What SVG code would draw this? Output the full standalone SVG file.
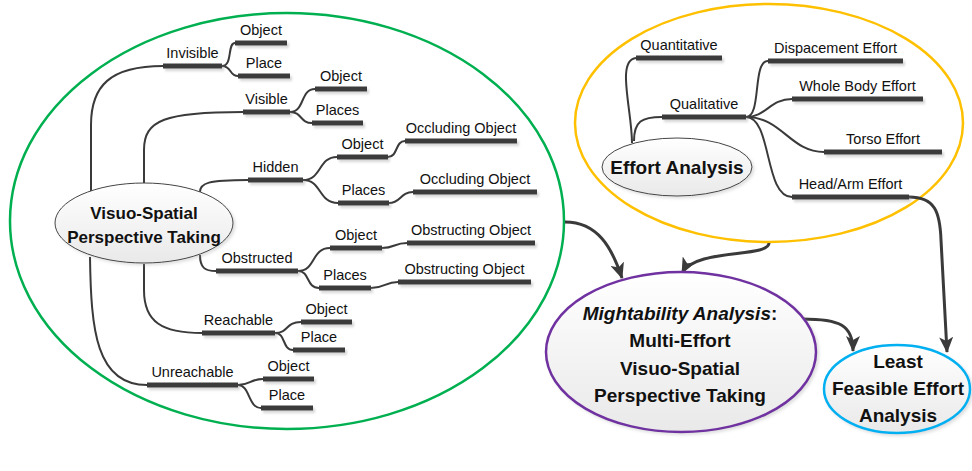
<svg xmlns="http://www.w3.org/2000/svg" width="972" height="471" viewBox="0 0 972 471">
<defs>
<style>
.t{font-family:"Liberation Sans",Arial,sans-serif;font-size:14.5px;fill:#111;text-anchor:middle}
.b{font-family:"Liberation Sans",Arial,sans-serif;font-weight:bold;fill:#111;text-anchor:middle}
.bar{stroke:#3a3a3a;stroke-width:5;fill:none}
.c{stroke:#3a3a3a;stroke-width:2;fill:none}
.a{stroke:#3a3a3a;stroke-width:3;fill:none;marker-end:url(#arr)}
.grp{fill:none;stroke-width:2.5}
</style>
<linearGradient id="g" x1="0" y1="0" x2="0" y2="1">
<stop offset="0" stop-color="#ffffff"/>
<stop offset="1" stop-color="#e9e9e9"/>
</linearGradient>
<filter id="sh" x="-10%" y="-10%" width="130%" height="150%">
<feDropShadow dx="2" dy="2.5" stdDeviation="1" flood-color="#999" flood-opacity="0.4"/>
</filter>
<filter id="esh" x="-10%" y="-10%" width="130%" height="130%">
<feDropShadow dx="2" dy="2" stdDeviation="1.5" flood-color="#999" flood-opacity="0.3"/>
</filter>
<marker id="arr" markerUnits="userSpaceOnUse" markerWidth="16" markerHeight="14" viewBox="0 0 16 14" refX="15" refY="7" orient="auto">
<path d="M0,0 L16,7 L0,14 L4,7 z" fill="#3a3a3a"/>
</marker>
</defs>
<rect width="972" height="471" fill="#fff"/>

<g id="groups">
<ellipse id="green-region" cx="287" cy="221" rx="277" ry="208" class="grp" stroke="#00b050"/>
<ellipse id="yellow-region" cx="769" cy="123" rx="194" ry="119" class="grp" stroke="#ffc000"/>
</g>

<g id="connectors">
<path class="c" d="M91,192 L91,125 C91,86 110,66 163,66"/>
<path class="c" d="M222,66 C233,66 227,43 235,43"/>
<path class="c" d="M222,66 C232,66 229,76 238,76"/>
<path class="c" d="M144,183 L144,150 C144,120 165,112 243,112"/>
<path class="c" d="M290,112 C305,112 300,89 315,89"/>
<path class="c" d="M290,112 C302,112 300,123 312,123"/>
<path class="c" d="M200,192 C200,183 208,180 248,180"/>
<path class="c" d="M303,180 C322,180 318,157 337,157"/>
<path class="c" d="M303,180 C322,180 318,203 338,203"/>
<path class="c" d="M388,157 C398,157 395,141 405,141"/>
<path class="c" d="M389,203 C401,203 400,192 413,192"/>
<path class="c" d="M200,255 C200,268 205,271 216,271"/>
<path class="c" d="M298,271 C316,271 311,248 330,248"/>
<path class="c" d="M298,271 C310,271 306,288 319,288"/>
<path class="c" d="M382,248 C395,248 394,243 407,243"/>
<path class="c" d="M371,288 C385,288 385,282 398,282"/>
<path class="c" d="M144,264 L144,290 C144,322 162,333 202,333"/>
<path class="c" d="M275,333 C289,333 285,322 301,322"/>
<path class="c" d="M275,333 C286,333 282,350 293,350"/>
<path class="c" d="M90,257 C91,330 96,385 147,385"/>
<path class="c" d="M238,385 C250,385 250,379 263,379"/>
<path class="c" d="M238,385 C250,385 248,408 261,408"/>
<path class="c" d="M632,143 C632,110 616,60 636,58"/>
<path class="c" d="M634,141 C634,121 642,117 662,117"/>
<path class="c" d="M746,117 C762,117 752,61 768,61"/>
<path class="c" d="M746,117 C766,117 770,99 792,99"/>
<path class="c" d="M746,117 C782,117 790,152 824,152"/>
<path class="c" d="M746,117 C772,117 764,197 792,197"/>
<path class="a" d="M565,222 C598,222 612,248 622,278"/>
<path class="a" d="M769,243 C769,258 695,248 682,273"/>
<path class="a" d="M802,319 C840,319 853,325 853,351"/>
<path class="a" d="M909,197 C935,197 940,212 941,240 L947,352"/>
</g>

<g id="bars" filter="url(#sh)">
<path class="bar" d="M163,66H222 M235,43H287 M238,76H290 M243,112H290 M315,89H367 M312,123H363 M248,180H303 M337,157H388 M405,141H517 M338,203H389 M413,192H537 M216,271H298 M330,248H382 M407,243H535 M319,288H371 M398,282H531 M202,333H275 M301,322H352 M293,350H345 M147,385H238 M263,379H314 M261,408H313 M636,58H722 M662,117H746 M768,61H903 M792,99H923 M824,152H942 M792,197H909"/>
</g>

<g id="n-visuo-spatial">
<ellipse cx="144" cy="223" rx="89" ry="40" fill="url(#g)" stroke="#444" stroke-width="1" filter="url(#esh)"/>
<text class="b" x="144" y="219" font-size="17">Visuo-Spatial</text>
<text class="b" x="144" y="243" font-size="17">Perspective Taking</text>
</g>
<g id="n-invisible"><text class="t" x="192.5" y="58">Invisible</text></g>
<g id="n-invisible-object"><text class="t" x="261" y="35">Object</text></g>
<g id="n-invisible-place"><text class="t" x="264" y="68">Place</text></g>
<g id="n-visible"><text class="t" x="266.5" y="104">Visible</text></g>
<g id="n-visible-object"><text class="t" x="341" y="81">Object</text></g>
<g id="n-visible-places"><text class="t" x="337.5" y="115">Places</text></g>
<g id="n-hidden"><text class="t" x="275.5" y="172">Hidden</text></g>
<g id="n-hidden-object"><text class="t" x="362.5" y="149">Object</text></g>
<g id="n-hidden-object-occ"><text class="t" x="461" y="133">Occluding Object</text></g>
<g id="n-hidden-places"><text class="t" x="363.5" y="195">Places</text></g>
<g id="n-hidden-places-occ"><text class="t" x="475" y="184">Occluding Object</text></g>
<g id="n-obstructed"><text class="t" x="257" y="263">Obstructed</text></g>
<g id="n-obstructed-object"><text class="t" x="356" y="240">Object</text></g>
<g id="n-obstructed-object-obs"><text class="t" x="471" y="235">Obstructing Object</text></g>
<g id="n-obstructed-places"><text class="t" x="345" y="280">Places</text></g>
<g id="n-obstructed-places-obs"><text class="t" x="464.5" y="274">Obstructing Object</text></g>
<g id="n-reachable"><text class="t" x="238.5" y="325">Reachable</text></g>
<g id="n-reachable-object"><text class="t" x="326.5" y="314">Object</text></g>
<g id="n-reachable-place"><text class="t" x="319" y="342">Place</text></g>
<g id="n-unreachable"><text class="t" x="192.5" y="377">Unreachable</text></g>
<g id="n-unreachable-object"><text class="t" x="288.5" y="371">Object</text></g>
<g id="n-unreachable-place"><text class="t" x="287" y="400">Place</text></g>

<g id="n-effort-analysis">
<ellipse cx="677" cy="167" rx="75" ry="29" fill="url(#g)" stroke="#444" stroke-width="1" filter="url(#esh)"/>
<text class="b" x="677" y="174" font-size="19">Effort Analysis</text>
</g>
<g id="n-quantitative"><text class="t" x="679" y="50">Quantitative</text></g>
<g id="n-qualitative"><text class="t" x="704" y="109">Qualitative</text></g>
<g id="n-displacement"><text class="t" x="835.5" y="53">Dispacement Effort</text></g>
<g id="n-wholebody"><text class="t" x="857.5" y="91">Whole Body Effort</text></g>
<g id="n-torso"><text class="t" x="883" y="144">Torso Effort</text></g>
<g id="n-headarm"><text class="t" x="850.5" y="189">Head/Arm Effort</text></g>

<g id="n-mightability">
<ellipse cx="681" cy="352" rx="135" ry="80" fill="url(#g)" stroke="#7030a0" stroke-width="2.5" filter="url(#esh)"/>
<text class="b" x="680" y="320" font-size="19"><tspan font-style="italic">Mightability Analysis</tspan>:</text>
<text class="b" x="680" y="347" font-size="19">Multi-Effort</text>
<text class="b" x="680" y="375" font-size="19">Visuo-Spatial</text>
<text class="b" x="680" y="402" font-size="19">Perspective Taking</text>
</g>

<g id="n-least-feasible">
<ellipse cx="897" cy="389" rx="73" ry="44" fill="url(#g)" stroke="#00b0f0" stroke-width="2.5" filter="url(#esh)"/>
<text class="b" x="898" y="368" font-size="19">Least</text>
<text class="b" x="898" y="395" font-size="19">Feasible Effort</text>
<text class="b" x="898" y="422" font-size="19">Analysis</text>
</g>
</svg>
